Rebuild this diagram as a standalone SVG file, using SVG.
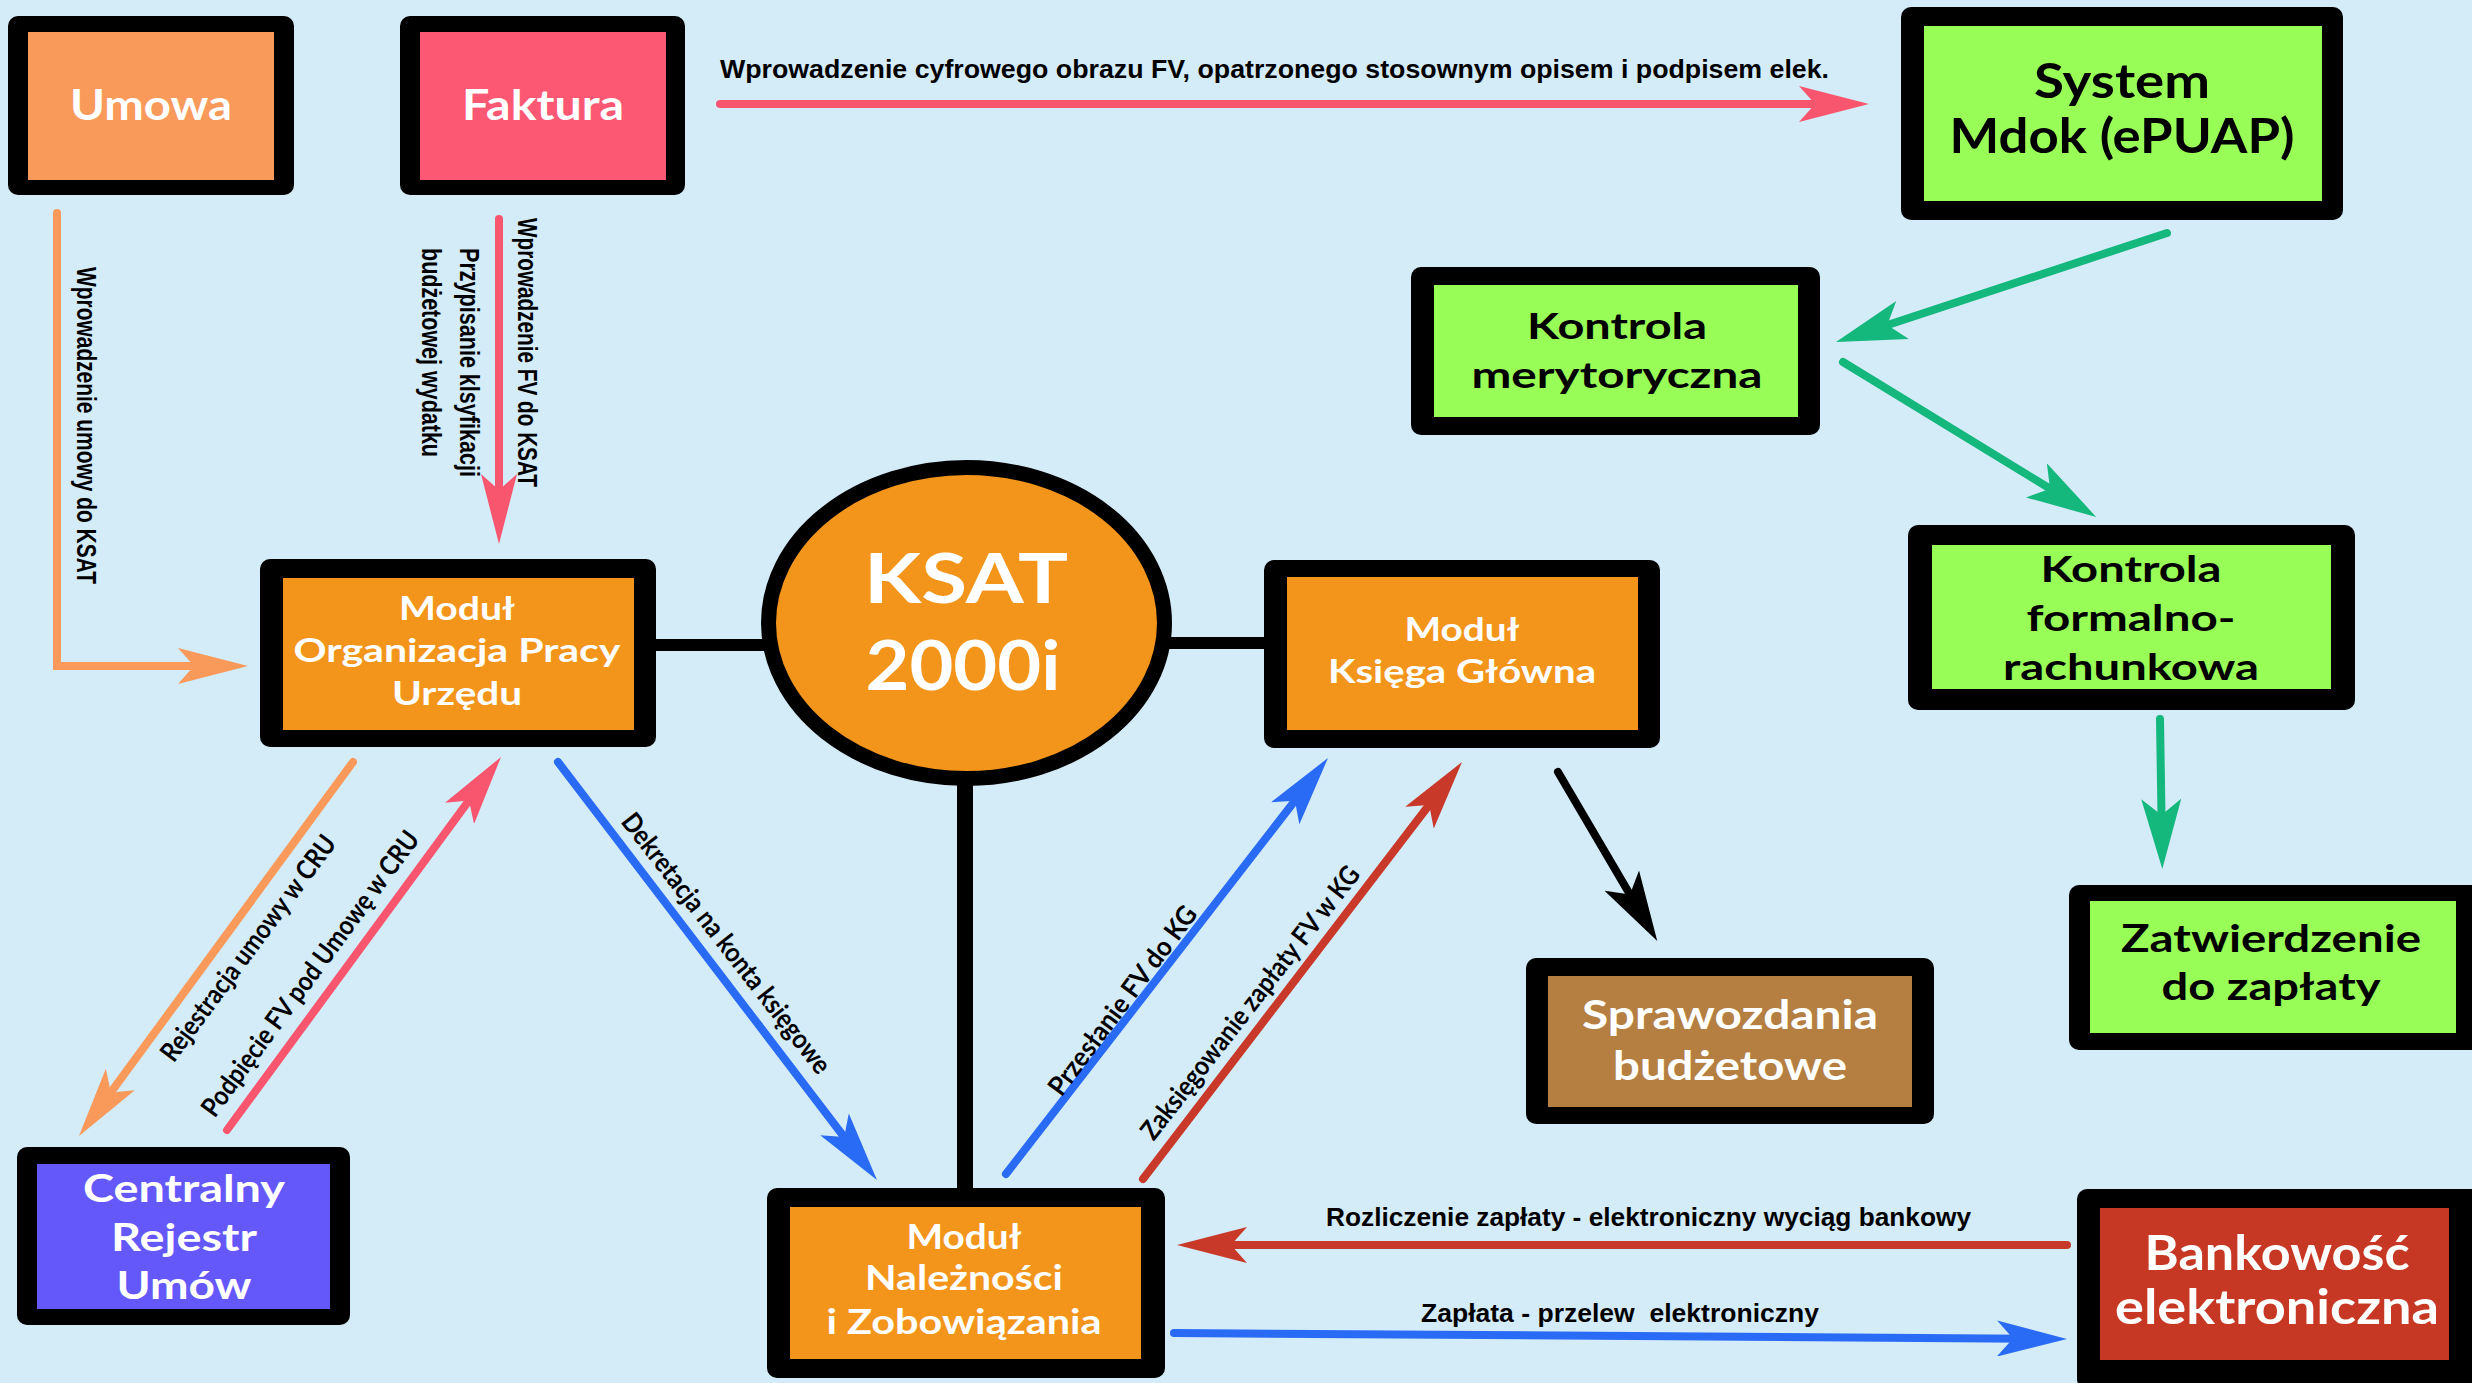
<svg xmlns="http://www.w3.org/2000/svg" width="2472" height="1383" viewBox="0 0 2472 1383">
<style>
.bg{fill:#d4ebf8}
.frame{fill:#000}
.nt{font-family:Lato,"Open Sans","DejaVu Sans",sans-serif;font-weight:bold;text-anchor:middle}
.w{fill:#fff}
.k{fill:#000}
.lbl{font-family:"Liberation Sans Narrow","Liberation Sans",Arial,sans-serif;font-weight:bold;font-size:25px;fill:#000;white-space:pre}
.vl{font-family:"Liberation Sans Narrow","Liberation Sans",Arial,sans-serif;font-weight:bold;font-size:28px;fill:#000}
.dl{font-family:Lato,"Open Sans",sans-serif;font-weight:bold;font-size:27px;fill:#000;text-anchor:middle}
.c{fill:none;stroke-width:8;stroke-linecap:round;stroke-linejoin:miter}
.link{stroke:#000;fill:none}
</style>
<defs>
<marker id="mOrange" markerUnits="userSpaceOnUse" viewBox="0 0 70 36" refX="30" refY="18" markerWidth="70" markerHeight="36" orient="auto"><path d="M0,0 L70,18 L0,36 L16,18 Z" fill="#f9995a"/></marker>
<marker id="mPink" markerUnits="userSpaceOnUse" viewBox="0 0 70 36" refX="30" refY="18" markerWidth="70" markerHeight="36" orient="auto"><path d="M0,0 L70,18 L0,36 L16,18 Z" fill="#f8566f"/></marker>
<marker id="mBlue" markerUnits="userSpaceOnUse" viewBox="0 0 70 36" refX="30" refY="18" markerWidth="70" markerHeight="36" orient="auto"><path d="M0,0 L70,18 L0,36 L16,18 Z" fill="#2a6bf5"/></marker>
<marker id="mRed" markerUnits="userSpaceOnUse" viewBox="0 0 70 36" refX="30" refY="18" markerWidth="70" markerHeight="36" orient="auto"><path d="M0,0 L70,18 L0,36 L16,18 Z" fill="#c9392a"/></marker>
<marker id="mGreen" markerUnits="userSpaceOnUse" viewBox="0 0 70 40" refX="30" refY="20" markerWidth="70" markerHeight="40" orient="auto"><path d="M0,0 L70,20 L0,40 L16,20 Z" fill="#14b77c"/></marker>
<marker id="mBlack" markerUnits="userSpaceOnUse" viewBox="0 0 70 40" refX="30" refY="20" markerWidth="70" markerHeight="40" orient="auto"><path d="M0,0 L70,20 L0,40 L16,20 Z" fill="#000"/></marker>
</defs>
<rect class="bg" x="0" y="0" width="2472" height="1383"/>

<g id="connectors">
<line class="link" x1="650" y1="645" x2="770" y2="645" stroke-width="12"/>
<line class="link" x1="1165" y1="643" x2="1270" y2="643" stroke-width="12"/>
<line class="link" x1="965" y1="775" x2="965" y2="1195" stroke-width="16"/>

<polyline class="c" stroke="#f9995a" stroke-linecap="butt" points="57,213 57,666 208,666" marker-end="url(#mOrange)"/>
<line class="c" stroke="#f8566f" stroke-linecap="butt" x1="499" y1="219" x2="499" y2="504" marker-end="url(#mPink)"/>
<line class="c" stroke="#f8566f" stroke-linecap="butt" x1="720" y1="104" x2="1829" y2="104" marker-end="url(#mPink)"/>
<line class="c" stroke="#14b77c" x1="2167" y1="233" x2="1874" y2="329.5" marker-end="url(#mGreen)"/>
<line class="c" stroke="#14b77c" x1="1843" y1="362" x2="2062" y2="496" marker-end="url(#mGreen)"/>
<line class="c" stroke="#14b77c" x1="2160" y1="719" x2="2161.7" y2="829" marker-end="url(#mGreen)"/>
<line class="c" stroke="#000" x1="1558" y1="772" x2="1637" y2="906.5" marker-end="url(#mBlack)"/>
<line class="c" stroke="#f9995a" x1="353" y1="762" x2="102.6" y2="1103.7" marker-end="url(#mOrange)"/>
<line class="c" stroke="#f8566f" x1="227" y1="1130" x2="477.3" y2="789.2" marker-end="url(#mPink)"/>
<line class="c" stroke="#2a6bf5" x1="558" y1="762" x2="852.7" y2="1148.2" marker-end="url(#mBlue)"/>
<line class="c" stroke="#2a6bf5" x1="1006" y1="1174" x2="1303.5" y2="789.6" marker-end="url(#mBlue)"/>
<line class="c" stroke="#c9392a" x1="1143" y1="1179" x2="1437.7" y2="793.8" marker-end="url(#mRed)"/>
<line class="c" stroke="#c9392a" x1="2067" y1="1245" x2="1217" y2="1245" marker-end="url(#mRed)"/>
<line class="c" stroke="#2a6bf5" x1="1174" y1="1333" x2="2027" y2="1338.7" marker-end="url(#mBlue)"/>

<text class="lbl" x="720" y="78" textLength="1109" lengthAdjust="spacingAndGlyphs">Wprowadzenie cyfrowego obrazu FV, opatrzonego stosownym opisem i podpisem elek.</text>
<text class="lbl" x="1326" y="1226" textLength="645" lengthAdjust="spacingAndGlyphs">Rozliczenie zapłaty - elektroniczny wyciąg bankowy</text>
<text class="lbl" x="1421" y="1322" textLength="398" lengthAdjust="spacingAndGlyphs">Zapłata - przelew  elektroniczny</text>
<text class="vl" x="77" y="267" transform="rotate(90 77 267)" textLength="317" lengthAdjust="spacingAndGlyphs">Wprowadzenie umowy do KSAT</text>
<text class="vl" x="518" y="218" transform="rotate(90 518 218)" textLength="269" lengthAdjust="spacingAndGlyphs">Wprowadzenie FV do KSAT</text>
<text class="vl" x="460" y="248" transform="rotate(90 460 248)" textLength="229" lengthAdjust="spacingAndGlyphs">Przypisanie klsyfikacji</text>
<text class="vl" x="422" y="248" transform="rotate(90 422 248)" textLength="209" lengthAdjust="spacingAndGlyphs">budżetowej wydatku</text>
<text class="dl" x="255.6" y="953.7" transform="rotate(-53.3 255.6 953.7)" textLength="274" lengthAdjust="spacingAndGlyphs">Rejestracja umowy w CRU</text>
<text class="dl" x="317.6" y="979" transform="rotate(-53.6 317.6 979)" textLength="347" lengthAdjust="spacingAndGlyphs">Podpięcie FV pod Umowę w CRU</text>
<text class="dl" x="719" y="949" transform="rotate(52.1 719 949)" textLength="322" lengthAdjust="spacingAndGlyphs">Dekretacja na konta księgowe</text>
<text class="dl" x="1130" y="1006" transform="rotate(-53.2 1130 1006)" textLength="229" lengthAdjust="spacingAndGlyphs">Przesłanie FV do KG</text>
<text class="dl" x="1257.5" y="1008.3" transform="rotate(-52.1 1257.5 1008.3)" textLength="338" lengthAdjust="spacingAndGlyphs">Zaksięgowanie zapłaty FV w KG</text>
</g>

<g id="umowa">
<rect class="frame" x="8" y="16" width="286" height="179" rx="10"/>
<rect x="28" y="32" width="246" height="148" fill="#f9995a"/>
<text class="nt w" x="151" y="120" font-size="42" textLength="162" lengthAdjust="spacingAndGlyphs">Umowa</text>
</g>

<g id="faktura">
<rect class="frame" x="400" y="16" width="285" height="179" rx="10"/>
<rect x="420" y="32" width="246" height="148" fill="#fc5874"/>
<text class="nt w" x="543" y="120" font-size="42" textLength="162" lengthAdjust="spacingAndGlyphs">Faktura</text>
</g>

<g id="mdok">
<rect class="frame" x="1901" y="7" width="442" height="213" rx="10"/>
<rect x="1924" y="26" width="398" height="175" fill="#99fd57"/>
<text class="nt k" x="2122" y="98" font-size="48" textLength="176" lengthAdjust="spacingAndGlyphs">System</text>
<text class="nt k" x="2122" y="153" font-size="48" textLength="345" lengthAdjust="spacingAndGlyphs">Mdok (ePUAP)</text>
</g>

<g id="kontrola-merytoryczna">
<rect class="frame" x="1411" y="267" width="409" height="168" rx="10"/>
<rect x="1434" y="285" width="364" height="132" fill="#99fd57"/>
<text class="nt k" x="1617" y="339" font-size="36" textLength="180" lengthAdjust="spacingAndGlyphs">Kontrola</text>
<text class="nt k" x="1617" y="388" font-size="36" textLength="291" lengthAdjust="spacingAndGlyphs">merytoryczna</text>
</g>

<g id="kontrola-formalno">
<rect class="frame" x="1908" y="525" width="447" height="185" rx="10"/>
<rect x="1932" y="545" width="399" height="144" fill="#99fd57"/>
<text class="nt k" x="2131" y="582" font-size="36" textLength="181" lengthAdjust="spacingAndGlyphs">Kontrola</text>
<text class="nt k" x="2131" y="631" font-size="36" textLength="209" lengthAdjust="spacingAndGlyphs">formalno-</text>
<text class="nt k" x="2131" y="680" font-size="36" textLength="256" lengthAdjust="spacingAndGlyphs">rachunkowa</text>
</g>

<g id="zatwierdzenie">
<rect class="frame" x="2069" y="885" width="420" height="165" rx="10"/>
<rect x="2090" y="901" width="366" height="132" fill="#99fd57"/>
<text class="nt k" x="2271" y="952" font-size="38" textLength="300" lengthAdjust="spacingAndGlyphs">Zatwierdzenie</text>
<text class="nt k" x="2271" y="1000" font-size="38" textLength="219" lengthAdjust="spacingAndGlyphs">do zapłaty</text>
</g>

<g id="ksat">
<ellipse cx="966.5" cy="623" rx="198" ry="155.5" fill="#f3951b" stroke="#000" stroke-width="15"/>
<text class="nt w" x="966" y="603" font-size="68" textLength="204" lengthAdjust="spacingAndGlyphs">KSAT</text>
<text class="nt w" x="963" y="690" font-size="68" textLength="195" lengthAdjust="spacingAndGlyphs">2000i</text>
</g>

<g id="modul-opu">
<rect class="frame" x="260" y="559" width="396" height="188" rx="10"/>
<rect x="283" y="578" width="351" height="152" fill="#f3951b"/>
<text class="nt w" x="457" y="620" font-size="33" textLength="116" lengthAdjust="spacingAndGlyphs">Moduł</text>
<text class="nt w" x="457" y="662" font-size="33" textLength="327" lengthAdjust="spacingAndGlyphs">Organizacja Pracy</text>
<text class="nt w" x="457" y="705" font-size="33" textLength="130" lengthAdjust="spacingAndGlyphs">Urzędu</text>
</g>

<g id="modul-kg">
<rect class="frame" x="1264" y="560" width="396" height="188" rx="10"/>
<rect x="1287" y="577" width="351" height="153" fill="#f3951b"/>
<text class="nt w" x="1462" y="641" font-size="33" textLength="115" lengthAdjust="spacingAndGlyphs">Moduł</text>
<text class="nt w" x="1462" y="683" font-size="33" textLength="268" lengthAdjust="spacingAndGlyphs">Księga Główna</text>
</g>

<g id="modul-nz">
<rect class="frame" x="767" y="1188" width="398" height="190" rx="10"/>
<rect x="790" y="1207" width="351" height="152" fill="#f3951b"/>
<text class="nt w" x="964" y="1249" font-size="34" textLength="115" lengthAdjust="spacingAndGlyphs">Moduł</text>
<text class="nt w" x="964" y="1290" font-size="34" textLength="198" lengthAdjust="spacingAndGlyphs">Należności</text>
<text class="nt w" x="964" y="1334" font-size="34" textLength="275" lengthAdjust="spacingAndGlyphs">i Zobowiązania</text>
</g>

<g id="cru">
<rect class="frame" x="17" y="1147" width="333" height="178" rx="10"/>
<rect x="37" y="1164" width="293" height="145" fill="#6558fb"/>
<text class="nt w" x="184" y="1202" font-size="38" textLength="202" lengthAdjust="spacingAndGlyphs">Centralny</text>
<text class="nt w" x="184" y="1251" font-size="38" textLength="146" lengthAdjust="spacingAndGlyphs">Rejestr</text>
<text class="nt w" x="184" y="1299" font-size="38" textLength="135" lengthAdjust="spacingAndGlyphs">Umów</text>
</g>

<g id="sprawozdania">
<rect class="frame" x="1526" y="958" width="408" height="166" rx="10"/>
<rect x="1548" y="976" width="364" height="131" fill="#b47f41"/>
<text class="nt w" x="1730" y="1029" font-size="40" textLength="296" lengthAdjust="spacingAndGlyphs">Sprawozdania</text>
<text class="nt w" x="1730" y="1080" font-size="40" textLength="234" lengthAdjust="spacingAndGlyphs">budżetowe</text>
</g>

<g id="bankowosc">
<rect class="frame" x="2077" y="1189" width="410" height="200" rx="10"/>
<rect x="2100" y="1208" width="349" height="152" fill="#c73824"/>
<text class="nt w" x="2277" y="1270" font-size="48" textLength="265" lengthAdjust="spacingAndGlyphs">Bankowość</text>
<text class="nt w" x="2277" y="1324" font-size="48" textLength="324" lengthAdjust="spacingAndGlyphs">elektroniczna</text>
</g>
</svg>
